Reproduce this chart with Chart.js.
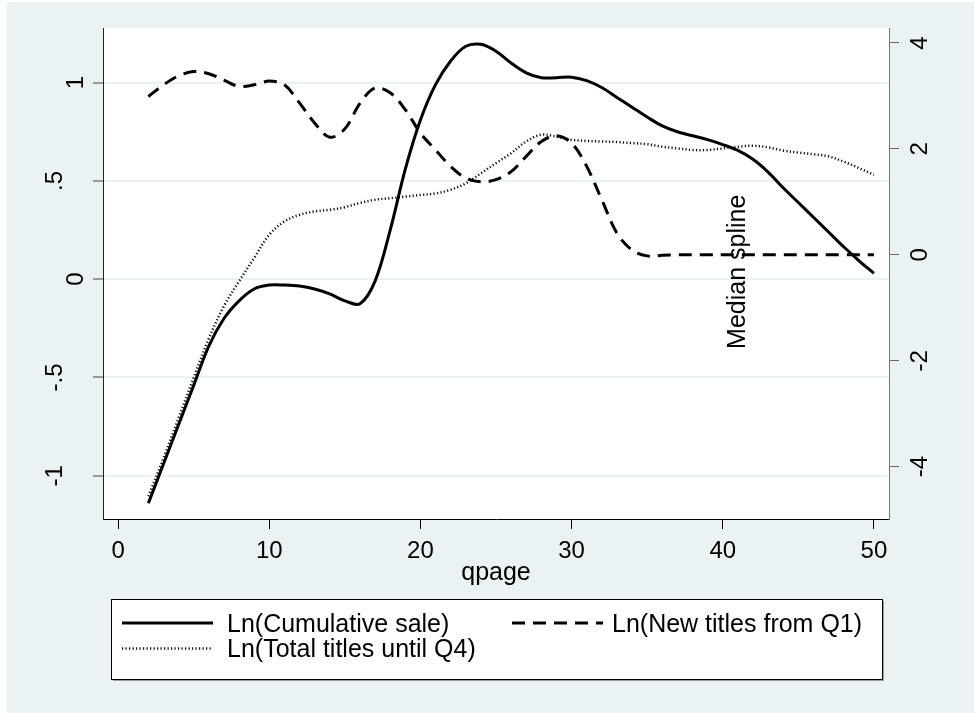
<!DOCTYPE html>
<html>
<head>
<meta charset="utf-8">
<script src="https://cdn.jsdelivr.net/npm/chart.js@4.4.0/dist/chart.umd.min.js"></script>
<style>
  html, body { margin: 0; padding: 0; background: #fff; }
  #wrap { width: 974px; height: 713px; }
</style>
</head>
<body>
<div id="wrap"><canvas id="c" width="974" height="713"></canvas></div>
<script>
// ----------------- data -----------------
const qpage = [2,3,4,5,6,7,8,9,10,11,12,13,14,15,16,17,18,19,20,21,22,23,24,25,26,
  27,28,29,30,31,32,33,34,35,36,37,38,39,40,41,42,43,44,45,46,47,48,49,50];

// left axis
const lnCumSale = [-1.14,-0.94,-0.74,-0.54,-0.34,-0.20,-0.11,-0.05,-0.03,-0.03,-0.035,-0.05,
  -0.075,-0.11,-0.125,-0.01,0.25,0.56,0.81,0.99,1.11,1.185,1.195,1.16,1.10,1.05,1.025,1.025,
  1.028,1.01,0.975,0.925,0.875,0.825,0.78,0.75,0.73,0.71,0.685,0.655,0.61,0.545,0.465,0.39,
  0.315,0.24,0.165,0.095,0.03];

// right axis
const lnNewTitles = [2.99,3.21,3.38,3.46,3.42,3.30,3.18,3.21,3.28,3.21,2.87,2.49,2.22,2.38,
  2.86,3.15,3.06,2.74,2.30,1.98,1.67,1.45,1.38,1.42,1.57,1.86,2.14,2.25,2.11,1.67,1.04,0.41,
  0.09,-0.02,-0.01,0,0,0,0,0,0,0,0,0,0,0,0,0,0];

const lnTotalTitles = [-4.56,-3.84,-3.08,-2.32,-1.58,-0.97,-0.50,-0.06,0.38,0.63,0.755,0.82,
  0.85,0.90,0.98,1.04,1.07,1.10,1.13,1.16,1.23,1.35,1.54,1.73,1.92,2.14,2.27,2.23,2.17,2.15,
  2.14,2.13,2.11,2.09,2.04,2.01,1.98,1.98,2.01,2.04,2.06,2.03,1.97,1.93,1.90,1.86,1.76,1.64,1.51];

const seriesLabels = ['Ln(Cumulative sale)', 'Ln(New titles from Q1)', 'Ln(Total titles until Q4)'];

const xTicks = [0, 10, 20, 30, 40, 50];
const leftTicks = [-1, -0.5, 0, 0.5, 1];
const leftTickLabels = ['-1', '-.5', '0', '.5', '1'];
const rightTicks = [-4, -2, 0, 2, 4];
const rightTickLabels = ['-4', '-2', '0', '2', '4'];

const noteText = 'Median spline';
const noteAt = { x: 41.5, y: -0.32 }; // right axis units

// ----------------- style -----------------
const FONT = '"Liberation Sans", Arial, sans-serif';
const BG = '#EAF2F3';

function pts(ys) { return qpage.map((x, i) => ({ x: x, y: ys[i] })); }

function rotText(ctx, text, x, y) {
  ctx.save();
  ctx.translate(x, y);
  ctx.rotate(-Math.PI / 2);
  ctx.textAlign = 'center';
  ctx.textBaseline = 'alphabetic';
  ctx.fillText(text, 0, 0);
  ctx.restore();
}

const backdrop = {
  id: 'backdrop',
  beforeDraw(chart) {
    const { ctx, chartArea: a } = chart;
    ctx.save();
    ctx.fillStyle = '#fff';
    ctx.fillRect(0, 0, chart.width, chart.height);
    ctx.fillStyle = BG;
    ctx.fillRect(7, 2, chart.width - 7, chart.height - 2);
    ctx.fillStyle = '#fff';
    ctx.fillRect(a.left, a.top, a.right - a.left, a.bottom - a.top);
    ctx.restore();
  }
};

const extras = {
  id: 'extras',
  afterDraw(chart) {
    const { ctx, chartArea: a, scales } = chart;
    ctx.save();
    ctx.fillStyle = '#000';
    ctx.font = '24px ' + FONT;

    // rotated y tick labels (Stata style)
    leftTicks.forEach((v, i) => {
      const t = leftTickLabels[i];
      const bx = a.left - 20 - (t.length > 1 ? 21 : 0);
      rotText(ctx, t, bx, scales.yL.getPixelForValue(v));
    });
    rightTicks.forEach((v, i) => {
      rotText(ctx, rightTickLabels[i], a.right + 38, scales.yR.getPixelForValue(v));
    });

    ctx.font = '25px ' + FONT;
    // x title
    ctx.textAlign = 'center';
    ctx.textBaseline = 'alphabetic';
    ctx.fillText('qpage', (a.left + a.right) / 2, 580);

    // note
    rotText(ctx, noteText, scales.x.getPixelForValue(noteAt.x), scales.yR.getPixelForValue(noteAt.y));

    // legend
    const box = { x: 111, y: 599, w: 771, h: 80 };
    ctx.fillStyle = '#9a9a9a';
    ctx.fillRect(box.x + 2, box.y + 2, box.w, box.h);
    ctx.fillStyle = '#fff';
    ctx.fillRect(box.x, box.y, box.w, box.h);
    ctx.strokeStyle = '#000';
    ctx.lineWidth = 1;
    ctx.strokeRect(box.x + 0.5, box.y + 0.5, box.w, box.h);

    const slots = [{ x: 122, tx: 227, y: 623 }, { x: 512, tx: 612, y: 623 }, { x: 122, tx: 227, y: 648.5 }];
    chart.data.datasets.forEach((ds, i) => {
      const s = slots[i];
      ctx.save();
      ctx.strokeStyle = ds.borderColor;
      ctx.lineWidth = ds.borderWidth;
      ctx.setLineDash(ds.borderDash || []);
      ctx.beginPath();
      ctx.moveTo(s.x, s.y);
      ctx.lineTo(s.x + 91, s.y);
      ctx.stroke();
      ctx.restore();
      ctx.fillStyle = '#000';
      ctx.textAlign = 'left';
      ctx.fillText(ds.label, s.tx, s.y + 8.5);
    });
    ctx.restore();
  }
};

const tickFont = { family: FONT, size: 24 };

new Chart(document.getElementById('c').getContext('2d'), {
  type: 'line',
  data: {
    datasets: [
      { label: seriesLabels[0], data: pts(lnCumSale), yAxisID: 'yL',
        borderColor: '#000', borderWidth: 3, borderDash: [], pointRadius: 0, tension: 0.35 },
      { label: seriesLabels[1], data: pts(lnNewTitles), yAxisID: 'yR',
        borderColor: '#000', borderWidth: 3, borderDash: [13, 8], pointRadius: 0, tension: 0.35 },
      { label: seriesLabels[2], data: pts(lnTotalTitles), yAxisID: 'yR',
        borderColor: '#111', borderWidth: 2.5, borderDash: [1.2, 2.3], pointRadius: 0, tension: 0.35 }
    ]
  },
  options: {
    responsive: false,
    animation: false,
    devicePixelRatio: 1,
    layout: { padding: { top: 28, left: 0, right: 0, bottom: 0 } },
    plugins: { legend: { display: false }, tooltip: { enabled: false } },
    scales: {
      x: {
        type: 'linear', position: 'bottom', min: -1, max: 51,
        afterBuildTicks: s => { s.ticks = xTicks.map(v => ({ value: v })); },
        afterFit: s => { s.height = 194; },
        grid: { drawOnChartArea: false, tickLength: 10, tickColor: '#000', tickWidth: 1 },
        border: { color: '#000', width: 1 },
        ticks: { font: tickFont, color: '#000', padding: 8, maxRotation: 0, autoSkip: false }
      },
      yL: {
        type: 'linear', position: 'left', min: -1.22, max: 1.278,
        afterBuildTicks: s => { s.ticks = leftTicks.map(v => ({ value: v })); },
        afterFit: s => { s.width = 103; },
        grid: { color: BG, lineWidth: 2, tickLength: 10, tickColor: '#444', tickWidth: 1 },
        border: { color: '#222', width: 1 },
        ticks: { display: false }
      },
      yR: {
        type: 'linear', position: 'right', min: -4.988, max: 4.283,
        afterBuildTicks: s => { s.ticks = rightTicks.map(v => ({ value: v })); },
        afterFit: s => { s.width = 85; },
        grid: { drawOnChartArea: false, tickLength: 10, tickColor: '#666', tickWidth: 1 },
        border: { color: '#777', width: 1 },
        ticks: { display: false }
      }
    }
  },
  plugins: [backdrop, extras]
});
</script>
</body>
</html>
